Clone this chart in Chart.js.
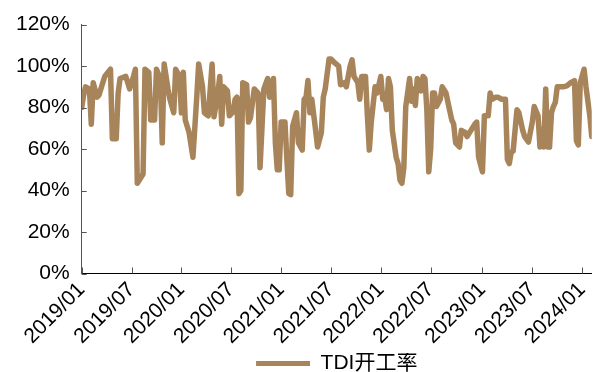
<!DOCTYPE html>
<html>
<head>
<meta charset="utf-8">
<script src="https://cdn.jsdelivr.net/npm/chart.js@4.4.1/dist/chart.umd.min.js"></script>
<style>
  html, body { margin: 0; padding: 0; background: #fff; }
  #wrap { width: 604px; height: 372px; }
</style>
</head>
<body>
<div id="wrap"><canvas id="chart-tdi"></canvas></div>
<script>
// TDI开工率 — weekly, weeks counted from the first week of 2019/01
const tickWeeks = [0, 26, 52, 78, 104, 130, 156, 182, 209, 235, 261];
const tickLabels = ["2019/01", "2019/07", "2020/01", "2020/07", "2021/01", "2021/07",
  "2022/01", "2022/07", "2023/01", "2023/07", "2024/01"];

const weekIdx = [
  0, 1, 2, 4, 5, 6, 8, 9, 10, 12, 15, 16, 18, 19, 20, 23, 25, 27, 28, 29,
  32, 33, 35, 36, 38, 39, 41, 42, 43, 45, 46, 48, 49, 51, 52, 53, 54, 56, 58, 60,
  61, 63, 64, 66, 68, 69, 71, 72, 73, 74, 76, 77, 79, 80, 81, 82, 83, 84, 86, 87,
  88, 90, 92, 93, 95, 97, 98, 100, 101, 102, 103, 104, 106, 107, 108, 109, 110, 112, 113, 115,
  116, 117, 118, 119, 120, 122, 123, 125, 126, 127, 129, 130, 132, 134, 135, 137, 138, 140, 141, 142,
  144, 145, 146, 148, 149, 150, 151, 153, 154, 156, 157, 158, 159, 160, 161, 162, 164, 165, 166, 167,
  168, 169, 171, 172, 173, 174, 175, 177, 178, 179, 180, 181, 182, 183, 184, 185, 187, 188, 190, 191,
  193, 194, 195, 197, 198, 200, 201, 203, 205, 206, 207, 209, 210, 212, 213, 214, 216, 217, 219, 221,
  222, 223, 224, 225, 227, 228, 230, 231, 233, 235, 236, 238, 239, 240, 241, 242, 243, 244, 245, 246,
  247, 248, 251, 253, 255, 257, 258, 259, 260, 262, 263, 265, 266
];
const tdiRate = [
  80, 86, 90, 89, 72, 92, 85, 86, 89, 95, 98.5, 65, 65, 87, 94, 95, 89, 95, 98.5, 43.5,
  48, 98.5, 97, 74, 74, 98.5, 94, 63, 101, 89, 84, 77.5, 98.5, 95, 77.5, 97, 74, 68, 56, 85,
  101, 90, 77.5, 76, 101, 75.6, 87, 95, 72, 90, 88, 76, 78, 84, 85, 38.5, 40, 92, 91, 73,
  75, 89, 87, 51, 89, 94, 85, 94, 63, 50, 50, 73, 73, 55, 38.5, 38, 71, 77.5, 63, 59.5,
  84, 85, 93, 77.5, 84, 69, 61, 68, 85, 89, 103.4, 103.4, 101.5, 100, 91, 92, 90, 100, 103, 95,
  92, 84, 95, 95, 76, 59.5, 73, 90, 87, 95, 84, 85, 79, 94, 90, 69, 56, 53, 45, 43.5,
  51, 80.5, 94, 83, 89, 81, 94, 88, 95, 94, 79, 49, 60, 87, 87, 80.5, 84, 90, 87, 82.5,
  74, 72, 63, 61, 69, 68, 66, 69, 72, 73, 56, 49, 76, 76, 87, 84, 85, 85, 84, 84,
  55, 53, 58.5, 59, 79, 77.5, 69, 66, 63.4, 73, 80.5, 76, 61, 69, 61, 89, 61, 61, 77.5, 80.5,
  82.5, 90, 90, 90.5, 92, 93, 64, 62, 92, 98.5, 90, 76, 66
];

const LINE_COLOR = "#a8845a";

Chart.defaults.font.family = "'Liberation Sans', Arial, 'Noto Sans CJK SC', sans-serif";
Chart.defaults.font.size = 21;
Chart.defaults.color = "#000";

// inward tick marks on both axes
const innerTicks = {
  id: "innerTicks",
  afterDatasetsDraw(chart) {
    const { ctx, chartArea, scales } = chart;
    ctx.save();
    ctx.strokeStyle = "#555";
    ctx.lineWidth = 1;
    ctx.beginPath();
    tickWeeks.forEach((w) => {
      const x = Math.round(scales.x.getPixelForValue(w)) + 0.5;
      ctx.moveTo(x, chartArea.bottom);
      ctx.lineTo(x, chartArea.bottom - 6);
    });
    scales.y.ticks.forEach((t) => {
      const y = Math.round(scales.y.getPixelForValue(t.value)) + 0.5;
      ctx.moveTo(chartArea.left, y);
      ctx.lineTo(chartArea.left + 5, y);
    });
    ctx.stroke();
    ctx.restore();
  },
};

new Chart(document.getElementById("chart-tdi"), {
  type: "line",
  data: {
    datasets: [{
      label: "TDI开工率",
      data: weekIdx.map((w, i) => ({ x: w, y: tdiRate[i] })),
      borderColor: LINE_COLOR,
      backgroundColor: LINE_COLOR,
      borderWidth: 5.5,
      borderJoinStyle: "round",
      borderCapStyle: "round",
      pointRadius: 0,
      tension: 0,
    }],
  },
  options: {
    responsive: true,
    maintainAspectRatio: false,
    animation: false,
    layout: { padding: { top: 21, right: 1, left: 4, bottom: -12 } },
    plugins: {
      tooltip: { enabled: false },
      legend: {
        position: "bottom",
        fullSize: false,
        labels: {
          boxWidth: 54,
          boxHeight: 5,
          padding: 0,
          font: { size: 21 },
          generateLabels: () => [{
            text: "TDI开工率",
            fillStyle: LINE_COLOR,
            strokeStyle: LINE_COLOR,
            lineWidth: 0,
            hidden: false,
            datasetIndex: 0,
          }],
        },
      },
    },
    scales: {
      x: {
        type: "linear",
        min: 0,
        max: 266,
        afterBuildTicks: (scale) => { scale.ticks = tickWeeks.map((v) => ({ value: v })); },
        ticks: {
          minRotation: 45,
          maxRotation: 45,
          padding: 4,
          autoSkip: false,
          callback: (v) => tickLabels[tickWeeks.indexOf(v)] ?? "",
        },
        grid: { display: false, drawTicks: false },
        border: { display: true, color: "#000", width: 1 },
      },
      y: {
        min: 0,
        max: 120,
        ticks: { stepSize: 20, padding: 12, callback: (v) => v + "%" },
        grid: { display: false, drawTicks: false },
        border: { display: true, color: "#555", width: 1 },
      },
    },
  },
  plugins: [innerTicks],
});
</script>
</body>
</html>
